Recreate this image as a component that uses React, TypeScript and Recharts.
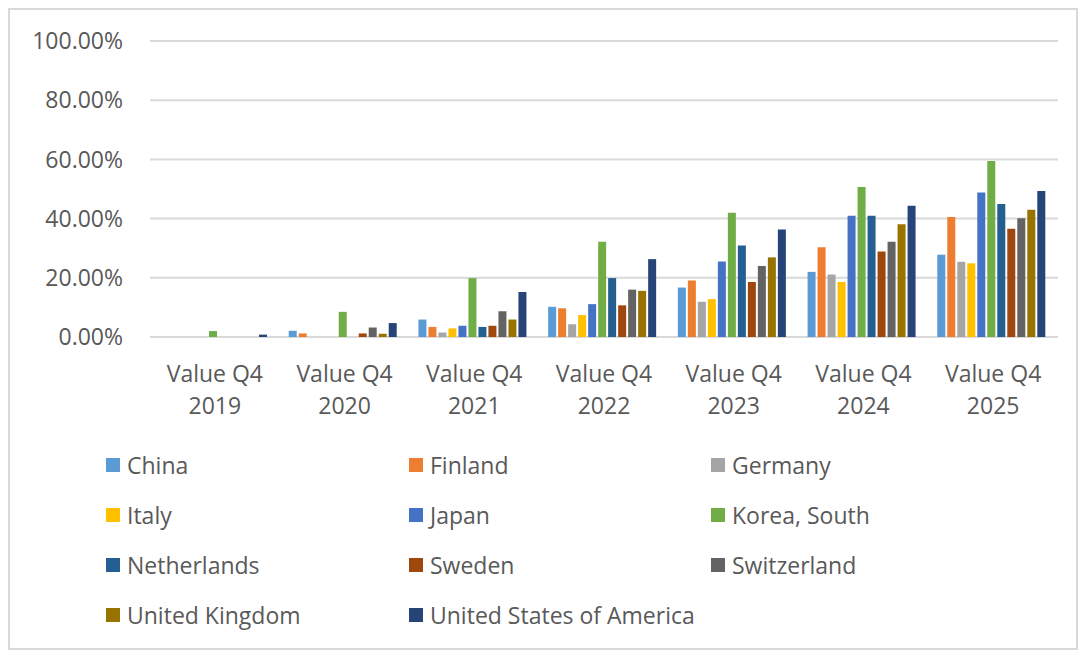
import React from "react"
import { BarChart, Bar, XAxis, YAxis, CartesianGrid, Legend } from "recharts"

const periods = ["Value Q4 2019", "Value Q4 2020", "Value Q4 2021", "Value Q4 2022", "Value Q4 2023", "Value Q4 2024", "Value Q4 2025"]

const china = [0, 2.1, 5.9, 10.2, 16.7, 22.0, 27.8]
const finland = [0, 1.2, 3.4, 9.7, 19.1, 30.3, 40.5]
const germany = [0, 0, 1.5, 4.3, 11.9, 21.1, 25.4]
const italy = [0, 0, 2.9, 7.4, 12.8, 18.6, 24.9]
const japan = [0, 0, 3.8, 11.1, 25.5, 41.0, 48.8]
const korea = [2.0, 8.5, 19.9, 32.2, 42.0, 50.7, 59.5]
const netherlands = [0, 0, 3.4, 19.9, 30.9, 41.0, 44.9]
const sweden = [0, 1.2, 3.8, 10.7, 18.6, 28.9, 36.6]
const switzerland = [0, 3.2, 8.7, 16.0, 24.0, 32.2, 40.1]
const unitedKingdom = [0, 1.1, 5.9, 15.6, 26.9, 38.1, 43.0]
const usa = [0.8, 4.7, 15.2, 26.3, 36.3, 44.3, 49.3]

const yTicks = [0, 20, 40, 60, 80, 100]

const series = [
  { key: "China", values: china, color: "#5B9BD5" },
  { key: "Finland", values: finland, color: "#ED7D31" },
  { key: "Germany", values: germany, color: "#A5A5A5" },
  { key: "Italy", values: italy, color: "#FFC000" },
  { key: "Japan", values: japan, color: "#4472C4" },
  { key: "Korea, South", values: korea, color: "#70AD47" },
  { key: "Netherlands", values: netherlands, color: "#255E91" },
  { key: "Sweden", values: sweden, color: "#9E480E" },
  { key: "Switzerland", values: switzerland, color: "#636363" },
  { key: "United Kingdom", values: unitedKingdom, color: "#997300" },
  { key: "United States of America", values: usa, color: "#264478" },
]

const data = periods.map((p, i) => {
  const row: Record<string, string | number> = { period: p }
  series.forEach((s) => (row[s.key] = s.values[i]))
  return row
})

const FONT = "'Open Sans', sans-serif"
const TEXT = "#595959"

function PeriodTick(props: any) {
  const { x, y, payload } = props
  const words = String(payload.value).split(" ")
  const line1 = words.slice(0, 2).join(" ")
  const line2 = words.slice(2).join(" ")
  return (
    <text x={x} y={y} textAnchor="middle" fill={TEXT} fontSize={23} fontFamily={FONT}>
      <tspan x={x} dy={37}>{line1}</tspan>
      <tspan x={x} dy={32}>{line2}</tspan>
    </text>
  )
}

function LegendGrid() {
  return (
    <div
      style={{
        display: "grid",
        gridTemplateColumns: "303px 302px 300px",
        gridAutoRows: "50px",
        paddingLeft: 96,
        fontFamily: FONT,
        fontSize: 23,
        color: TEXT,
      }}
    >
      {series.map((s) => (
        <div key={s.key} style={{ display: "flex", alignItems: "center", whiteSpace: "nowrap" }}>
          <span style={{ width: 14, height: 14, background: s.color, marginRight: 7, display: "inline-block" }} />
          <span>{s.key}</span>
        </div>
      ))}
    </div>
  )
}

export default function App() {
  return (
    <div style={{ width: 1066, height: 638, border: "2px solid #d9d9d9", background: "#fff" }}>
      <BarChart
        width={1066}
        height={638}
        data={data}
        margin={{ top: 31, right: 18, left: 0, bottom: 8 }}
        barCategoryGap={9}
        barGap={2}
      >
        <CartesianGrid vertical={false} stroke="#d9d9d9" strokeWidth={2} />
        <XAxis dataKey="period" axisLine={false} tickLine={false} interval={0} height={103} tick={<PeriodTick />} />
        <YAxis
          domain={[0, 100]}
          ticks={yTicks}
          width={140}
          axisLine={false}
          tickLine={false}
          tickSize={0}
          tickMargin={27}
          tickFormatter={(v: number) => v.toFixed(2) + "%"}
          tick={{ fill: TEXT, fontSize: 23, fontFamily: FONT }}
        />
        <Legend verticalAlign="bottom" content={<LegendGrid />} wrapperStyle={{ left: 0, width: 1066, bottom: 8 }} />
        {series.map((s) => (
          <Bar key={s.key} dataKey={s.key} fill={s.color} isAnimationActive={false} />
        ))}
      </BarChart>
    </div>
  )
}
